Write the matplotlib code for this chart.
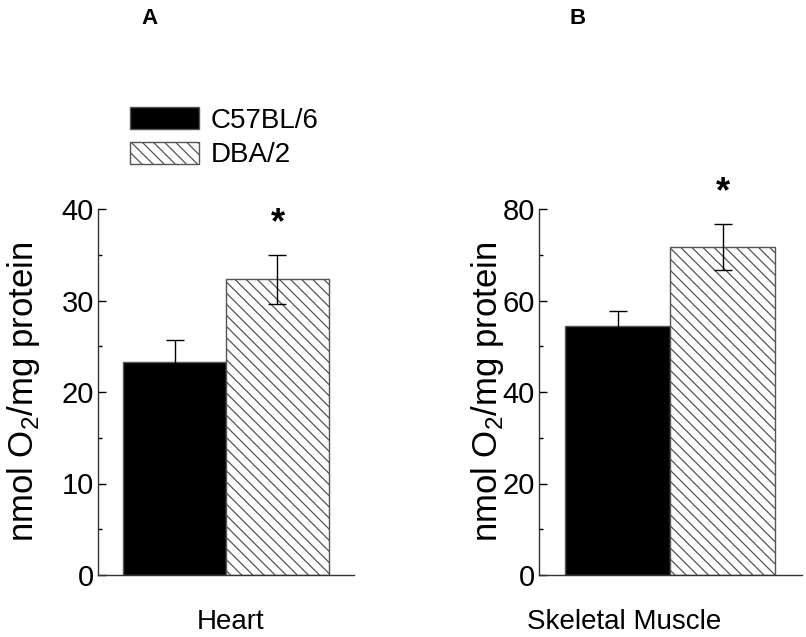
import matplotlib
matplotlib.use("Agg")
import matplotlib.pyplot as plt

plt.rcParams['font.family'] = ['Liberation Sans', 'DejaVu Sans']
plt.rcParams['hatch.linewidth'] = 0.9
plt.rcParams['mathtext.fontset'] = 'custom'
plt.rcParams['mathtext.rm'] = 'Liberation Sans'

strains = ['C57BL/6', 'DBA/2']
tissues = ['Heart', 'Skeletal Muscle']
panel_labels = ['A', 'B']
heart_mean = [23.3, 32.3]
heart_err = [2.4, 2.7]
muscle_mean = [54.4, 71.7]
muscle_err = [3.3, 5.0]
heart_ticks = [0, 10, 20, 30, 40]
muscle_ticks = [0, 20, 40, 60, 80]
heart_minor = [5, 15, 25, 35]
muscle_minor = [10, 30, 50, 70]

W, H = 806, 637
fig = plt.figure(figsize=(W / 100, H / 100), dpi=100)

def fx(px):
    return px / W

def fy(py):
    return 1 - py / H

axA = fig.add_axes([fx(98), fy(575), fx(354 - 98), fy(209) - fy(575)])
axB = fig.add_axes([fx(539), fy(575), fx(802 - 539), fy(209) - fy(575)])

panels = [
    (axA, heart_mean, heart_err, heart_ticks, heart_minor, 40, (-0.743, 1.743), 38.4, 24, 231),
    (axB, muscle_mean, muscle_err, muscle_ticks, muscle_minor, 80, (-0.748, 1.757), 83.6, 487, 624),
]

bars_for_legend = None
for i, (ax, mean, err, ticks, minor, ymax, xl, star_y, ylab_x, xlab_x) in enumerate(panels):
    x = [0, 1]
    b = ax.bar(x, mean, width=1.0, color=['black', 'white'], edgecolor='#555555',
               linewidth=1.0, yerr=err, capsize=6.5,
               error_kw=dict(elinewidth=1.0, capthick=1.0, ecolor='black'))
    b[1].set_hatch('\\\\\\')
    if bars_for_legend is None:
        bars_for_legend = b
    ax.set_xlim(*xl)
    ax.set_ylim(0, ymax)
    ax.set_yticks(ticks)
    ax.set_yticks(minor, minor=True)
    ax.tick_params(axis='y', which='major', direction='in', length=6, width=1,
                   labelsize=21, pad=3)
    ax.tick_params(axis='y', which='minor', direction='in', length=3, width=1)
    ax.set_xticks([])
    for s in ['top', 'right']:
        ax.spines[s].set_visible(False)
    for s in ['left', 'bottom']:
        ax.spines[s].set_linewidth(1.0)
        ax.spines[s].set_color('#333333')
    ax.set_ylabel('nmol O$_2$/mg protein', fontsize=25)
    ax.yaxis.label.set_va('center')
    ax.yaxis.set_label_coords((ylab_x - (98 if i == 0 else 539)) / (256 if i == 0 else 263), 0.5)
    ax.text(1, star_y, '*', ha='center', va='center', fontsize=26,
            fontweight='bold', clip_on=False)
    fig.text(fx(xlab_x), fy(622), tissues[i], ha='center', va='center', fontsize=20)

fig.text(fx(150), fy(18), panel_labels[0], ha='center', va='center',
         fontsize=16, fontweight='bold')
fig.text(fx(578), fy(18), panel_labels[1], ha='center', va='center',
         fontsize=16, fontweight='bold')

axA.legend(bars_for_legend, strains, loc='upper left',
           bbox_to_anchor=(fx(130), fy(107)), bbox_transform=fig.transFigure,
           frameon=False, borderpad=0, borderaxespad=0, fontsize=20,
           handlelength=2.5, handleheight=0.83, handletextpad=0.4,
           labelspacing=0.3)

fig.savefig('out.png', dpi=100)
